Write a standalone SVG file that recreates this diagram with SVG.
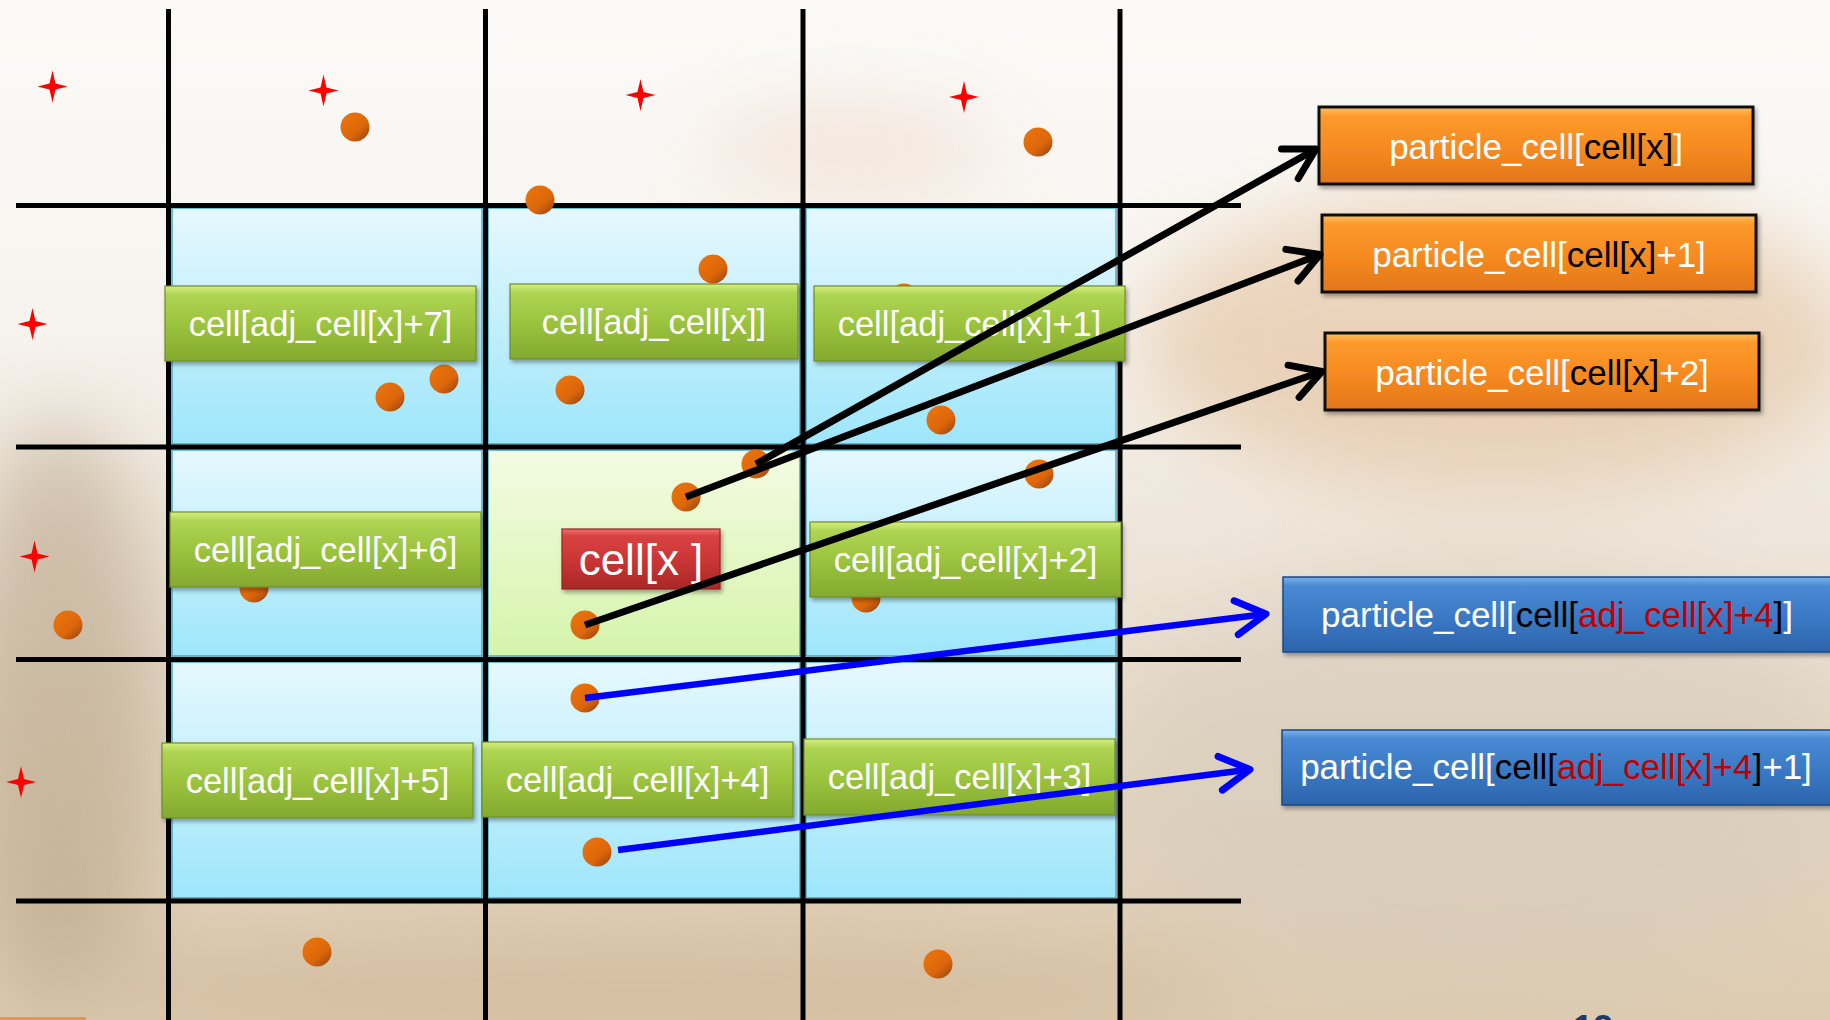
<svg xmlns="http://www.w3.org/2000/svg" width="1830" height="1020" viewBox="0 0 1830 1020">
<defs>
<style>
.grid{stroke:#000;stroke-width:5;fill:none}
.cellb{fill:url(#gBlue);stroke:#45a6c4;stroke-width:1.5}
.cellg{fill:url(#gGreenCell);stroke:#45a6c4;stroke-width:1.5}
.dot{fill:url(#gDot)}
.star{fill:#ff0000}
.gbox{fill:url(#gGreen);stroke:#6f8e2a;stroke-width:1.2;filter:url(#sh)}
.rbox{fill:url(#gRed);stroke:#9a2222;stroke-width:1.2;filter:url(#sh)}
.obox{fill:url(#gOrange);stroke:#111;stroke-width:3;filter:url(#sh)}
.bbox{fill:url(#gBlueBox);stroke:#1b4a86;stroke-width:1.5;filter:url(#sh)}
.t{font-family:"Liberation Sans",Arial,sans-serif;fill:#fff;text-anchor:middle}
.tg{font-size:34.5px}
.tb{font-size:35px}
.k{fill:#000}
.r{fill:#c00000}
.conb{stroke:#000;stroke-width:7;fill:none}
.conu{stroke:#0000ff;stroke-width:6.5;fill:none}
</style>
<linearGradient id="bgv" x1="0" y1="0" x2="0" y2="1">
<stop offset="0" stop-color="#fbfaf8"/><stop offset="0.3" stop-color="#f7f4ef"/><stop offset="0.6" stop-color="#ebe1d3"/><stop offset="1" stop-color="#ddcbb0"/>
</linearGradient>
<filter id="blur" x="-50%" y="-50%" width="200%" height="200%"><feGaussianBlur stdDeviation="40"/></filter>
<linearGradient id="gBlue" x1="0" y1="0" x2="0" y2="1">
<stop offset="0" stop-color="#e6f8fe"/><stop offset="1" stop-color="#9ee6fb"/>
</linearGradient>
<linearGradient id="gGreenCell" x1="0" y1="0" x2="0" y2="1">
<stop offset="0" stop-color="#f3fbe2"/><stop offset="1" stop-color="#d5f4ab"/>
</linearGradient>
<linearGradient id="gDot" x1="0.25" y1="0.2" x2="0.9" y2="0.95">
<stop offset="0" stop-color="#e8700b"/><stop offset="0.55" stop-color="#dc660a"/><stop offset="1" stop-color="#9c4812"/>
</linearGradient>
<linearGradient id="gGreen" x1="0" y1="0" x2="0" y2="1">
<stop offset="0" stop-color="#d4ef7e"/><stop offset="0.12" stop-color="#aed453"/><stop offset="0.5" stop-color="#9cc43e"/><stop offset="1" stop-color="#84a92f"/>
</linearGradient>
<linearGradient id="gRed" x1="0" y1="0" x2="0" y2="1">
<stop offset="0" stop-color="#f07070"/><stop offset="0.12" stop-color="#d84242"/><stop offset="0.55" stop-color="#c93434"/><stop offset="1" stop-color="#a82828"/>
</linearGradient>
<linearGradient id="gOrange" x1="0" y1="0" x2="0" y2="1">
<stop offset="0" stop-color="#ffc060"/><stop offset="0.12" stop-color="#fd9a2c"/><stop offset="0.55" stop-color="#f68a20"/><stop offset="1" stop-color="#e2761a"/>
</linearGradient>
<linearGradient id="gBlueBox" x1="0" y1="0" x2="0" y2="1">
<stop offset="0" stop-color="#78b2ea"/><stop offset="0.12" stop-color="#4a8ad4"/><stop offset="0.55" stop-color="#3a78c4"/><stop offset="1" stop-color="#2c64ac"/>
</linearGradient>
<filter id="sh" x="-5%" y="-10%" width="112%" height="130%">
<feDropShadow dx="2" dy="3" stdDeviation="2" flood-color="#000" flood-opacity="0.35"/>
</filter>
<path id="starP" d="M0,-16 L3,-3 L15,0 L3,3 L0,16 L-3,3 L-15,0 L-3,-3 Z"/>
<marker id="ahK" viewBox="-38 -24 44 48" refX="0" refY="0" markerWidth="44" markerHeight="48" markerUnits="userSpaceOnUse" orient="auto">
<path d="M-30,-17 L0,0 L-30,17" fill="none" stroke="#000" stroke-width="7" stroke-linecap="round" stroke-linejoin="round"/>
</marker>
<marker id="ahB" viewBox="-38 -24 44 48" refX="0" refY="0" markerWidth="44" markerHeight="48" markerUnits="userSpaceOnUse" orient="auto">
<path d="M-30,-17 L0,0 L-30,17" fill="none" stroke="#0000ff" stroke-width="7" stroke-linecap="round" stroke-linejoin="round"/>
</marker>
</defs>

<g id="background">
<rect x="0" y="0" width="1830" height="1020" fill="url(#bgv)"/>
<g filter="url(#blur)" opacity="0.45">
<ellipse cx="60" cy="720" rx="100" ry="300" fill="#a89070"/>
<ellipse cx="1500" cy="340" rx="360" ry="150" fill="#dcae80"/>
<ellipse cx="850" cy="150" rx="150" ry="50" fill="#ecd2c0"/>
<ellipse cx="1480" cy="780" rx="380" ry="220" fill="#d2c8b8"/>
<ellipse cx="640" cy="985" rx="600" ry="60" fill="#c8ae8c"/>
</g>
<rect x="0" y="1017" width="86" height="3" fill="#e8964e"/>
</g>

<g id="cells">
<rect class="cellb" x="172" y="208" width="310" height="236"/>
<rect class="cellb" x="488" y="208" width="312" height="236"/>
<rect class="cellb" x="806" y="208" width="310" height="236"/>
<rect class="cellb" x="172" y="450" width="310" height="206"/>
<rect class="cellg" x="488" y="450" width="312" height="206"/>
<rect class="cellb" x="806" y="450" width="310" height="206"/>
<rect class="cellb" x="172" y="662" width="310" height="236"/>
<rect class="cellb" x="488" y="662" width="312" height="236"/>
<rect class="cellb" x="806" y="662" width="310" height="236"/>
</g>

<g id="grid">
<line class="grid" x1="168.5" y1="9" x2="168.5" y2="1020"/>
<line class="grid" x1="485.5" y1="9" x2="485.5" y2="1020"/>
<line class="grid" x1="803" y1="9" x2="803" y2="1020"/>
<line class="grid" x1="1120" y1="9" x2="1120" y2="1020"/>
<line class="grid" x1="16" y1="205.5" x2="1241" y2="205.5"/>
<line class="grid" x1="16" y1="447" x2="1241" y2="447"/>
<line class="grid" x1="16" y1="659.5" x2="1241" y2="659.5"/>
<line class="grid" x1="16" y1="901" x2="1241" y2="901"/>
</g>

<g id="stars">
<use href="#starP" class="star" x="52.5" y="86.5"/>
<use href="#starP" class="star" x="323.5" y="90.5"/>
<use href="#starP" class="star" x="640.5" y="95"/>
<use href="#starP" class="star" x="964" y="97"/>
<use href="#starP" class="star" x="32.5" y="324"/>
<use href="#starP" class="star" x="34.5" y="556.5"/>
<use href="#starP" class="star" x="21" y="782"/>
</g>

<g id="particles">
<circle class="dot" cx="355" cy="127" r="14.5"/>
<circle class="dot" cx="540" cy="200" r="14.5"/>
<circle class="dot" cx="1038" cy="142" r="14.5"/>
<circle class="dot" cx="713" cy="269" r="14.5"/>
<circle class="dot" cx="904" cy="298" r="14.5"/>
<circle class="dot" cx="444" cy="379" r="14.5"/>
<circle class="dot" cx="390" cy="397" r="14.5"/>
<circle class="dot" cx="570" cy="390" r="14.5"/>
<circle class="dot" cx="941" cy="420" r="14.5"/>
<circle class="dot" cx="756" cy="464" r="14.5"/>
<circle class="dot" cx="686" cy="497" r="14.5"/>
<circle class="dot" cx="1039" cy="474" r="14.5"/>
<circle class="dot" cx="254" cy="588" r="14.5"/>
<circle class="dot" cx="68" cy="625" r="14.5"/>
<circle class="dot" cx="585" cy="625" r="14.5"/>
<circle class="dot" cx="866" cy="598" r="14.5"/>
<circle class="dot" cx="585" cy="698" r="14.5"/>
<circle class="dot" cx="597" cy="852" r="14.5"/>
<circle class="dot" cx="317" cy="952" r="14.5"/>
<circle class="dot" cx="938" cy="964" r="14.5"/>
</g>

<g id="adj7"><rect class="gbox" x="165" y="286" width="311" height="75"/><text class="t tg" x="320.5" y="335.5">cell[adj_cell[x]+7]</text></g>
<g id="adj0"><rect class="gbox" x="510" y="284" width="288" height="75"/><text class="t tg" x="654" y="333.5">cell[adj_cell[x]]</text></g>
<g id="adj1"><rect class="gbox" x="814" y="286" width="311" height="75"/><text class="t tg" x="969.5" y="335.5">cell[adj_cell[x]+1]</text></g>
<g id="adj6"><rect class="gbox" x="170" y="512" width="311" height="75"/><text class="t tg" x="325.5" y="561.5">cell[adj_cell[x]+6]</text></g>
<g id="cellx"><rect class="rbox" x="562" y="529" width="158" height="60"/><text class="t" style="font-size:44px" x="641" y="575">cell[x ]</text></g>
<g id="adj2"><rect class="gbox" x="810" y="522" width="311" height="75"/><text class="t tg" x="965.5" y="571.5">cell[adj_cell[x]+2]</text></g>
<g id="adj5"><rect class="gbox" x="162" y="743" width="311" height="75"/><text class="t tg" x="317.5" y="792.5">cell[adj_cell[x]+5]</text></g>
<g id="adj4"><rect class="gbox" x="482" y="742" width="311" height="75"/><text class="t tg" x="637.5" y="791.5">cell[adj_cell[x]+4]</text></g>
<g id="adj3"><rect class="gbox" x="804" y="739" width="311" height="76"/><text class="t tg" x="959.5" y="789">cell[adj_cell[x]+3]</text></g>

<g id="pc0"><rect class="obox" x="1319" y="107" width="434" height="77"/><text class="t tb" x="1536" y="159">particle_cell[<tspan class="k">cell[x]</tspan>]</text></g>
<g id="pc1"><rect class="obox" x="1322" y="215" width="434" height="77"/><text class="t tb" x="1539" y="267">particle_cell[<tspan class="k">cell[x]</tspan>+1]</text></g>
<g id="pc2"><rect class="obox" x="1325" y="333" width="434" height="77"/><text class="t tb" x="1542" y="385">particle_cell[<tspan class="k">cell[x]</tspan>+2]</text></g>
<g id="pa4"><rect class="bbox" x="1283" y="577" width="550" height="75"/><text class="t tb" x="1557" y="627">particle_cell[<tspan class="k">cell[</tspan><tspan class="r">adj_cell[x]+4</tspan><tspan class="k">]</tspan>]</text></g>
<g id="pa41"><rect class="bbox" x="1282" y="730" width="550" height="75"/><text class="t tb" x="1556" y="779">particle_cell[<tspan class="k">cell[</tspan><tspan class="r">adj_cell[x]+4</tspan><tspan class="k">]</tspan>+1]</text></g>

<g id="connectors">
<line class="conb" x1="756" y1="464" x2="1316" y2="149" marker-end="url(#ahK)"/>
<line class="conb" x1="686" y1="497" x2="1320" y2="254.5" marker-end="url(#ahK)"/>
<line class="conb" x1="585" y1="625" x2="1322" y2="371.5" marker-end="url(#ahK)"/>
<line class="conu" x1="585" y1="698" x2="1266" y2="614" marker-end="url(#ahB)"/>
<line class="conu" x1="618" y1="850" x2="1250" y2="769.5" marker-end="url(#ahB)"/>
</g>

<text x="1573" y="1041" style="font-family:'Liberation Sans',Arial,sans-serif;font-size:36px;font-weight:bold;fill:#1d3a6c">12</text>
</svg>
